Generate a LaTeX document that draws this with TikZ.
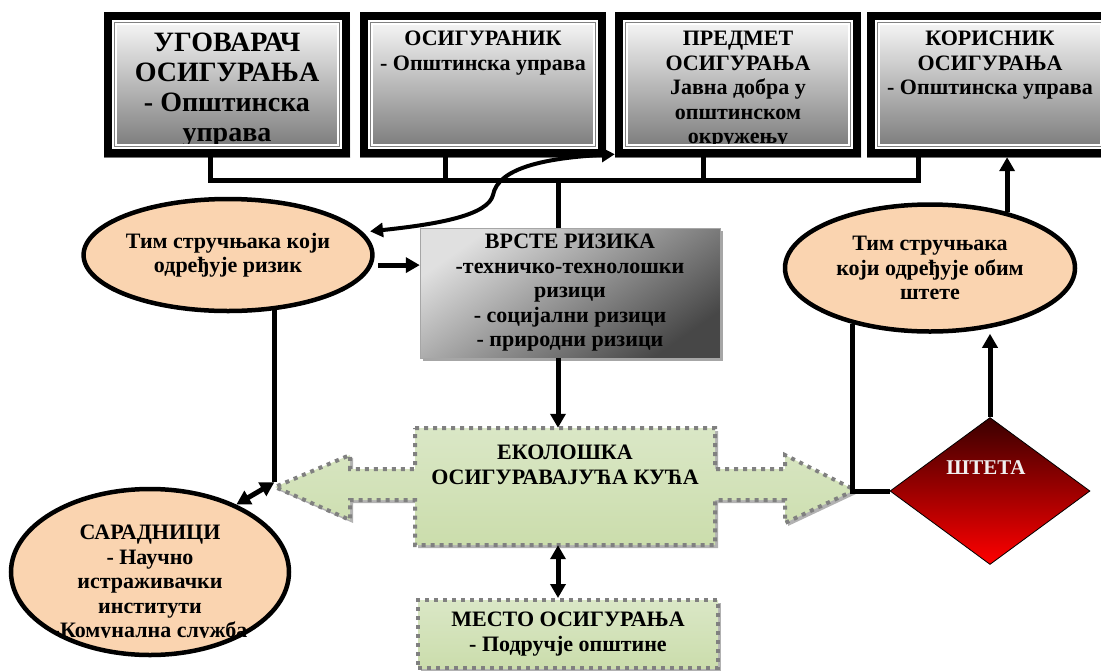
\documentclass[tikz,border=0pt]{standalone}
\usepackage{fontspec}
\setmainfont{Liberation Serif}
\usetikzlibrary{arrows.meta,shapes.geometric,shadows}

\definecolor{peach}{RGB}{250,212,176}
\definecolor{leafT}{RGB}{218,231,198}
\definecolor{leafM}{RGB}{239,244,231}
\definecolor{leafB}{RGB}{203,221,172}
\definecolor{bloodT}{RGB}{58,0,0}
\definecolor{dotgray}{RGB}{128,128,128}

\tikzset{
  every node/.style={font=\bfseries\fontsize{22}{24.5}\selectfont, align=center, inner sep=0pt},
  head/.style={rectangle, top color=white, bottom color=black!55, minimum width=246pt, minimum height=145pt},
  headtext/.style={anchor=north},
  bigtext/.style={font=\bfseries\fontsize{28}{30}\selectfont},
  team/.style={ellipse, draw, line width=4.5pt, fill=peach},
  kind/.style={rectangle, draw=gray!70, top color=black!12, bottom color=black!72, shading angle=35,
    minimum width=300pt, minimum height=130pt,
    drop shadow={shadow xshift=3pt, shadow yshift=-3pt, fill=black!35, opacity=1}},
  leaf/.style={top color=leafT, middle color=leafM, bottom color=leafB},
  dotrim/.style={draw=dotgray, line width=4pt, dash pattern=on 4pt off 5pt},
  wire/.style={line width=5pt},
  arr/.style={wire, -{Triangle[length=14pt,width=15pt]}},
  dbl/.style={wire, {Triangle[length=14pt,width=15pt]}-{Triangle[length=14pt,width=15pt]}},
}

% heavy black frame with a thin grey inner line
\newcommand{\headframe}[1]{%
  \draw[line width=8pt] ([xshift=4pt,yshift=-4pt]#1.north west) rectangle ([xshift=-4pt,yshift=4pt]#1.south east);
  \draw[white, line width=5pt] ([xshift=10.5pt,yshift=-10.5pt]#1.north west) rectangle ([xshift=-10.5pt,yshift=10.5pt]#1.south east);
  \draw[gray, line width=1.3pt] ([xshift=10.5pt,yshift=-10.5pt]#1.north west) rectangle ([xshift=-10.5pt,yshift=10.5pt]#1.south east);
}

\begin{document}
\begin{tikzpicture}[x=1pt, y=-1pt]
\useasboundingbox (0,0) rectangle (1101,670);

% top row of boxes
\node[head] (u1) at (227,84.5) {};
\node[head] (u2) at (483,84.5) {};
\node[head] (u3) at (738,84.5) {};
\node[head] (u4) at (990,84.5) {};

\node[headtext, bigtext] (u1t) at (227,33) {УГОВАРАЧ\\ОСИГУРАЊА\\- Општинска\\управа};
\node[headtext] (u2t) at (483,31) {ОСИГУРАНИК\\- Општинска управа};
\node[headtext] (u3t) at (738,31) {ПРЕДМЕТ\\ОСИГУРАЊА\\Јавна добра у\\општинском\\окружењу};
\node[headtext] (u4t) at (990,31) {КОРИСНИК\\ОСИГУРАЊА\\- Општинска управа};

\headframe{u1}
\headframe{u2}
\headframe{u3}
\headframe{u4}

% bus under the boxes
\draw[wire] ([xshift=-17pt]u1.south) -- ++(0,23) -| ([xshift=-72pt]u4.south);
\draw[wire] ([xshift=-38pt]u2.south) -- ++(0,23);
\draw[wire] ([xshift=-35pt]u3.south) -- ++(0,23);

% middle row
\node[team, minimum width=285pt, minimum height=112pt] (t1) at (228,255) {Тим стручњака који\\одређује ризик};
\node[kind] (vr) at (570,293) {ВРСТЕ РИЗИКА\\-техничко-технолошки\\ризици\\- социјални ризици\\- природни ризици};
\node[team, minimum width=290pt, minimum height=127pt] (t2) at (930,268) {Тим стручњака\\који одређује обим\\штете};

% green callout with arrows both ways
\path[leaf, dotrim, drop shadow={shadow xshift=3pt, shadow yshift=-3pt, fill=black!30, opacity=1}]
  (415,428) -- (715,428) -- (715,469) -- (785,469) -- (785,455) -- (855,490) -- (785,523)
  -- (785,500) -- (715,500) -- (715,545) -- (415,545) -- (415,500) -- (350,500) -- (350,520)
  -- (275,487) -- (350,455) -- (350,469) -- (415,469) -- cycle;
\node[minimum width=300pt, minimum height=117pt] (eko) at (565,486.5) {};
\node (ekot) at (565,465) {ЕКОЛОШКА\\ОСИГУРАВАЈУЋА КУЋА};

\node[leaf, dotrim, minimum width=300pt, minimum height=68pt,
  drop shadow={shadow xshift=3pt, shadow yshift=-3pt, fill=black!30, opacity=1}] (mesto) at (568,634)
  {МЕСТО ОСИГУРАЊА\\- Подручје општине};

\node[diamond, draw, line width=0.8pt, top color=bloodT, bottom color=red,
  minimum width=200pt, minimum height=147pt] (st) at (990,491) {};
\node[text=white!88!gray, font=\bfseries\fontsize{21}{24}\selectfont] (stt) at (986,468) {ШТЕТА};

% partners
\node[team, minimum width=278pt, minimum height=166pt] (sar) at (150,572) {};
\begin{scope}
  \clip (0,0) rectangle (1101,637);
  \node (sart) at (150,584) {САРАДНИЦИ\\- Научно\\истраживачки\\институти\\-Комунална служба};
\end{scope}

% connectors
\draw[line width=4pt, {Triangle[length=13pt,width=14pt]}-{Triangle[length=13pt,width=14pt]}]
  ([xshift=8pt]t1.10) .. controls (440,224) and (488,215) .. (493,195)
  .. controls (498,168) and (545,158) .. ([yshift=3pt]u3.south west);
\draw[wire] ([xshift=-12pt]vr.north) -- ++(0,-48);
\draw[arr] ([xshift=6pt]t1.-4) -- (t1.-4 -| vr.west);
\draw[arr] ([xshift=-12pt]vr.south) -- ([xshift=-12pt]vr.south |- eko.north);
\draw[dbl] ([xshift=-7pt]eko.south) -- ([xshift=-7pt]eko.south |- mesto.north);
\draw[wire] (t1.-50) -- ++(0,172) coordinate (jl);
\draw[dbl] (jl) -- (sar.38);
\draw[arr] (t2.36) -- (t2.36 |- u4.south);
\draw[wire] (t2.216) |- (st.west);
\draw[arr] (st.north) -- (st.north |- t2.south);
\end{tikzpicture}
\end{document}
